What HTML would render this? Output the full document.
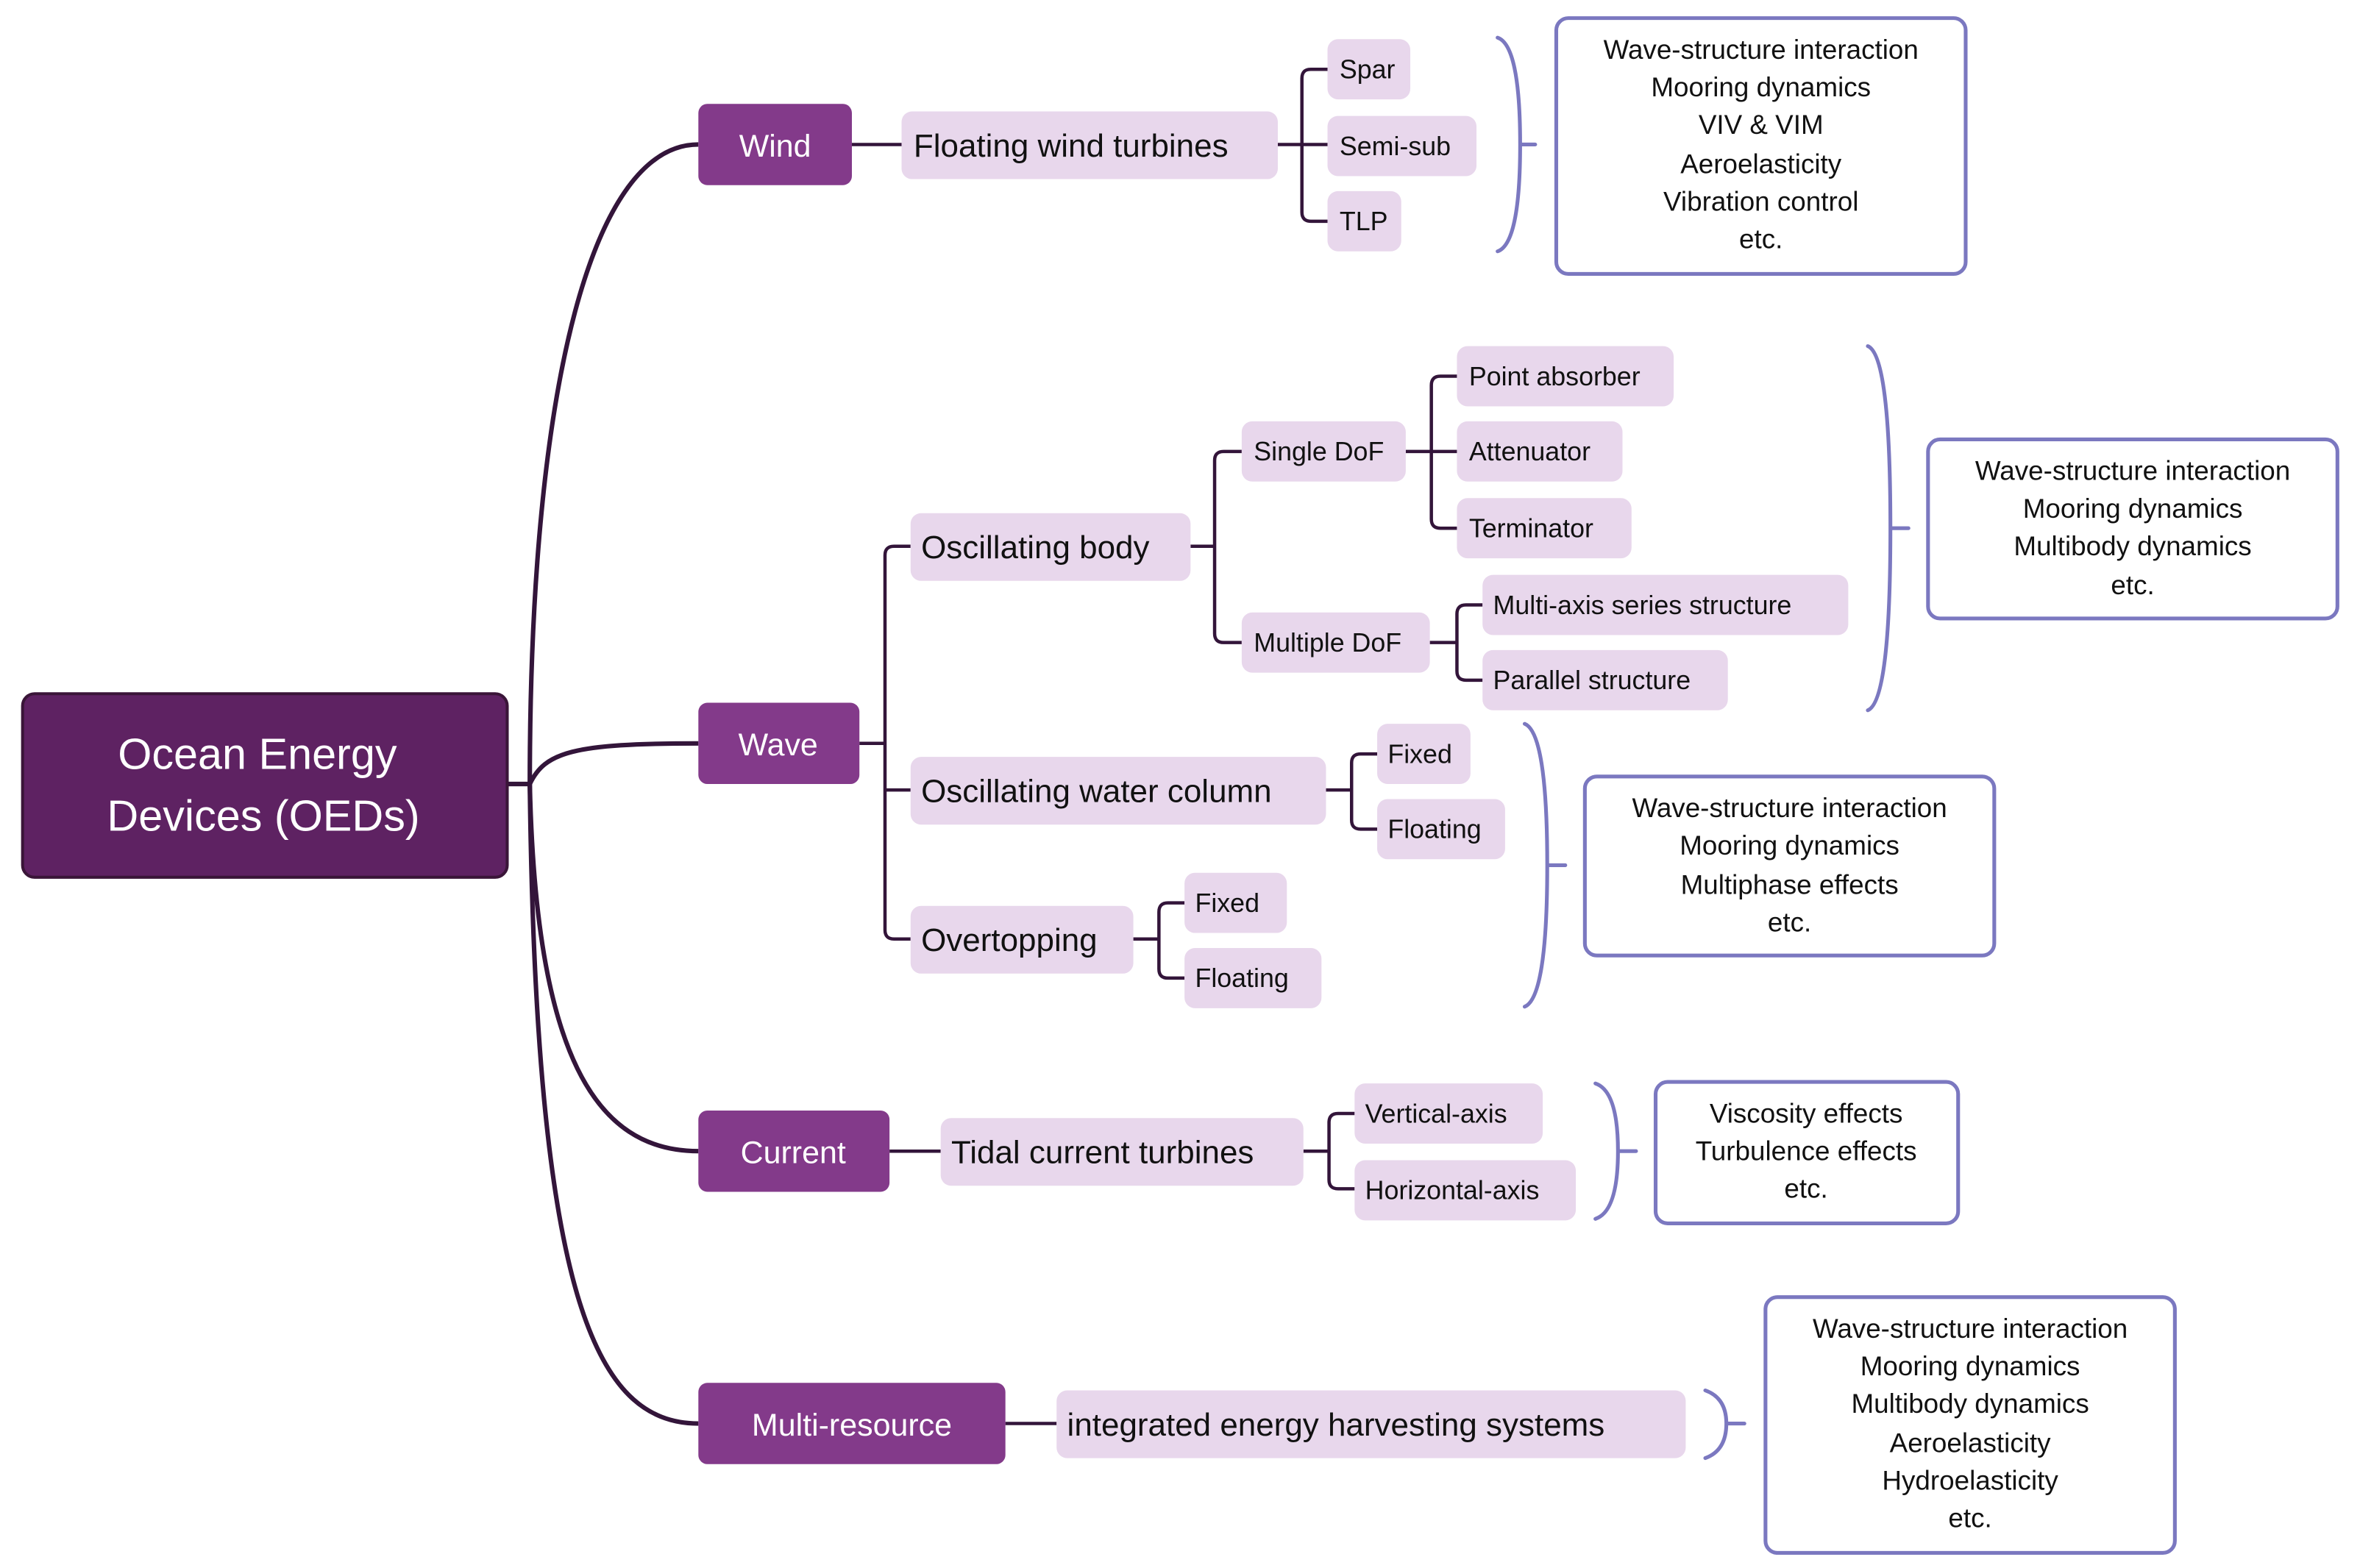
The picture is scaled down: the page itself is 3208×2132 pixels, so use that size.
<!DOCTYPE html>
<html><head><meta charset="utf-8"><style>
html,body{margin:0;padding:0;background:#fff}
svg{display:block}
text{font-family:"Liberation Sans",sans-serif}
</style></head><body>
<svg width="3208" height="2132" viewBox="0 0 1568 1042" xmlns="http://www.w3.org/2000/svg">
<rect width="1568" height="1042" fill="#fff"/>
<g fill="none" stroke="#33153a" stroke-width="3">
<path d="M337,521 H352"/>
<path d="M352,521 C352,250 395,96 464,96"/>
<path d="M352,521 C362,500 380,494 464,494"/>
<path d="M352,521 C356,700 395,765 464,765"/>
<path d="M352,521 C356,860 395,946 464,946"/>
</g>
<g fill="none" stroke="#33153a" stroke-width="2.2">
<path d="M566,96 H599"/>
<path d="M849,96 H882"/>
<path d="M882,46 H871 Q865,46 865,52 V141 Q865,147 871,147 H882"/>
<path d="M571,494 H588"/>
<path d="M605,363 H594 Q588,363 588,369 V618 Q588,624 594,624 H605"/>
<path d="M588,525 H605"/>
<path d="M791,363 H807"/>
<path d="M825,300 H813 Q807,300 807,306 V421 Q807,427 813,427 H825"/>
<path d="M934,300 H968"/>
<path d="M968,250 H957 Q951,250 951,256 V345 Q951,351 957,351 H968"/>
<path d="M950,427 H968"/>
<path d="M985,402 H974 Q968,402 968,408 V446 Q968,452 974,452 H985"/>
<path d="M881,525 H898"/>
<path d="M915,501 H904 Q898,501 898,507 V545 Q898,551 904,551 H915"/>
<path d="M753,624 H770"/>
<path d="M787,600 H776 Q770,600 770,606 V644 Q770,650 776,650 H787"/>
<path d="M591,765 H625"/>
<path d="M866,765 H883"/>
<path d="M900,740 H889 Q883,740 883,746 V784 Q883,790 889,790 H900"/>
<path d="M668,946 H702"/>
</g>
<g fill="none" stroke="#7b78c0" stroke-width="2.5" stroke-linecap="round">
<path d="M995,25 Q1010,30 1010,96 Q1010,162 995,167 M1010,96 H1020"/>
<path d="M1241,230 Q1256,236 1256,351 Q1256,466 1241,472 M1256,351 H1268"/>
<path d="M1013,481 Q1028,487 1028,575 Q1028,663 1013,669 M1028,575 H1040"/>
<path d="M1060,720 Q1075,725 1075,765 Q1075,805 1060,810 M1075,765 H1087"/>
<path d="M1133,924 Q1147,929 1147,946 Q1147,964 1133,969 M1147,946 H1159"/>
</g>
<rect x="15" y="461" width="322" height="122" rx="8" fill="#5e2262" stroke="#3a1538" stroke-width="2"/>
<g fill="#fff" font-size="29" text-anchor="middle">
<text x="171" y="511">Ocean Energy</text>
<text x="175" y="552">Devices (OEDs)</text>
</g>
<g fill="#833a8a">
<rect x="464" y="69" width="102" height="54" rx="6"/>
<rect x="464" y="467" width="107" height="54" rx="6"/>
<rect x="464" y="738" width="127" height="54" rx="6"/>
<rect x="464" y="919" width="204" height="54" rx="6"/>
</g>
<g fill="#fff" font-size="21" text-anchor="middle">
<text x="515" y="104">Wind</text>
<text x="517" y="502">Wave</text>
<text x="527" y="773">Current</text>
<text x="566" y="954">Multi-resource</text>
</g>
<g fill="#e8d7ec">
<rect x="599" y="74" width="250" height="45" rx="7"/>
<rect x="882" y="26" width="55" height="40" rx="7"/>
<rect x="882" y="77" width="99" height="40" rx="7"/>
<rect x="882" y="127" width="49" height="40" rx="7"/>
<rect x="605" y="341" width="186" height="45" rx="7"/>
<rect x="605" y="503" width="276" height="45" rx="7"/>
<rect x="605" y="602" width="148" height="45" rx="7"/>
<rect x="825" y="280" width="109" height="40" rx="7"/>
<rect x="825" y="407" width="125" height="40" rx="7"/>
<rect x="968" y="230" width="144" height="40" rx="7"/>
<rect x="968" y="280" width="110" height="40" rx="7"/>
<rect x="968" y="331" width="116" height="40" rx="7"/>
<rect x="985" y="382" width="243" height="40" rx="7"/>
<rect x="985" y="432" width="163" height="40" rx="7"/>
<rect x="915" y="481" width="62" height="40" rx="7"/>
<rect x="915" y="531" width="85" height="40" rx="7"/>
<rect x="787" y="580" width="68" height="40" rx="7"/>
<rect x="787" y="630" width="91" height="40" rx="7"/>
<rect x="625" y="743" width="241" height="45" rx="7"/>
<rect x="900" y="720" width="125" height="40" rx="7"/>
<rect x="900" y="771" width="147" height="40" rx="7"/>
<rect x="702" y="924" width="418" height="45" rx="7"/>
</g>
<g fill="#111" font-size="21.5">
<text x="607" y="104">Floating wind turbines</text>
<text x="612" y="371">Oscillating body</text>
<text x="612" y="533">Oscillating water column</text>
<text x="612" y="632">Overtopping</text>
<text x="632" y="773">Tidal current turbines</text>
<text x="709" y="954">integrated energy harvesting systems</text>
</g>
<g fill="#111" font-size="17.5">
<text x="890" y="52">Spar</text>
<text x="890" y="103">Semi-sub</text>
<text x="890" y="153">TLP</text>
<text x="833" y="306">Single DoF</text>
<text x="833" y="433">Multiple DoF</text>
<text x="976" y="256">Point absorber</text>
<text x="976" y="306">Attenuator</text>
<text x="976" y="357">Terminator</text>
<text x="992" y="408">Multi-axis series structure</text>
<text x="992" y="458">Parallel structure</text>
<text x="922" y="507">Fixed</text>
<text x="922" y="557">Floating</text>
<text x="794" y="606">Fixed</text>
<text x="794" y="656">Floating</text>
<text x="907" y="746">Vertical-axis</text>
<text x="907" y="797">Horizontal-axis</text>
</g>
<g fill="#fff" stroke="#7b78c0" stroke-width="2.5">
<rect x="1034" y="12" width="272" height="170" rx="8"/>
<rect x="1281" y="292" width="272" height="119" rx="8"/>
<rect x="1053" y="516" width="272" height="119" rx="8"/>
<rect x="1100" y="719" width="201" height="94" rx="8"/>
<rect x="1173" y="862" width="272" height="170" rx="8"/>
</g>
<g fill="#111" font-size="18" text-anchor="middle">
<text x="1170" y="39">Wave-structure interaction</text>
<text x="1170" y="64">Mooring dynamics</text>
<text x="1170" y="89">VIV &amp; VIM</text>
<text x="1170" y="115">Aeroelasticity</text>
<text x="1170" y="140">Vibration control</text>
<text x="1170" y="165">etc.</text>
<text x="1417" y="319">Wave-structure interaction</text>
<text x="1417" y="344">Mooring dynamics</text>
<text x="1417" y="369">Multibody dynamics</text>
<text x="1417" y="395">etc.</text>
<text x="1189" y="543">Wave-structure interaction</text>
<text x="1189" y="568">Mooring dynamics</text>
<text x="1189" y="594">Multiphase effects</text>
<text x="1189" y="619">etc.</text>
<text x="1200" y="746">Viscosity effects</text>
<text x="1200" y="771">Turbulence effects</text>
<text x="1200" y="796">etc.</text>
<text x="1309" y="889">Wave-structure interaction</text>
<text x="1309" y="914">Mooring dynamics</text>
<text x="1309" y="939">Multibody dynamics</text>
<text x="1309" y="965">Aeroelasticity</text>
<text x="1309" y="990">Hydroelasticity</text>
<text x="1309" y="1015">etc.</text>
</g>
</svg>
</body></html>
